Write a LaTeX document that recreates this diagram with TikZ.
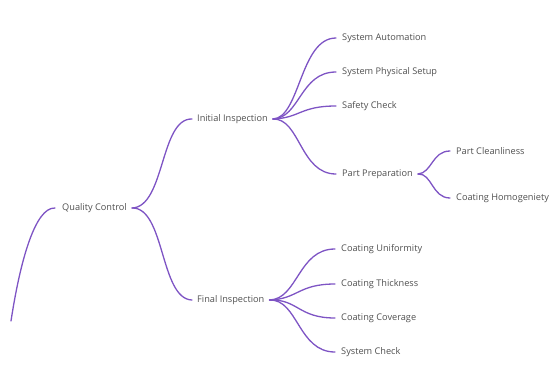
\documentclass[tikz,border=0pt]{standalone}
\usepackage{fontspec}
\setmainfont{Open Sans}
\definecolor{branch}{RGB}{126,84,196}
\definecolor{txt}{RGB}{80,80,80}
\begin{document}
\begin{tikzpicture}[x=1pt,y=-1pt,
  lbl/.style={anchor=west,inner sep=0pt,text=txt,font=\fontsize{9.2}{11}\selectfont},
  link/.style={draw=branch,line width=1.3pt,line cap=round}]
\useasboundingbox (0,0) rectangle (553,381);
% nodes
\node[lbl] (qc) at (62,208) {Quality Control};
\node[lbl] (ii) at (197,119) {Initial Inspection};
\node[lbl] (fi) at (197,300) {Final Inspection};
\node[lbl] (sa) at (342,38) {System Automation};
\node[lbl] (sp) at (342,72) {System Physical Setup};
\node[lbl] (sc) at (342,106) {Safety Check};
\node[lbl] (pp) at (342,174) {Part Preparation};
\node[lbl] (pc) at (456,151) {Part Cleanliness};
\node[lbl] (ch) at (456,198) {Coating Homogeniety};
\node[lbl] (cu) at (341,249) {Coating Uniformity};
\node[lbl] (ct) at (341,284) {Coating Thickness};
\node[lbl] (cc) at (341,318) {Coating Coverage};
\node[lbl] (sk) at (341,352) {System Check};
% fork points and ends
\coordinate (root) at (11,321);
\coordinate (qcin) at ([xshift=-7pt]qc.west);
\coordinate (qcf) at ([xshift=5pt]qc.east);
\coordinate (iiin) at ([xshift=-5pt]ii.west);
\coordinate (fiin) at ([xshift=-5pt]fi.west);
\coordinate (iif) at ([xshift=5pt]ii.east);
\coordinate (fif) at ([xshift=5pt]fi.east);
\coordinate (ppf) at ([xshift=5pt]pp.east);
% root
\draw[link] (root) .. controls (20,262) and (35,207) .. (qcin);
\draw[link] (qcf) .. controls (165,207) and (160,118) .. (iiin);
\draw[link] (qcf) .. controls (165,207) and (160,299) .. (fiin);
\foreach \n in {sa,sp,sc,pp}{
  \draw[link] (iif) .. controls (300,118) and (300,0|-\n.west) .. ([xshift=-6pt]\n.west);
}
\foreach \n in {cu,ct,cc,sk}{
  \draw[link] (fif) .. controls (298,299) and (298,0|-\n.west) .. ([xshift=-6pt]\n.west);
}
\foreach \n in {pc,ch}{
  \draw[link] (ppf) .. controls (432,173) and (432,0|-\n.west) .. ([xshift=-6pt]\n.west);
}
\end{tikzpicture}
\end{document}
